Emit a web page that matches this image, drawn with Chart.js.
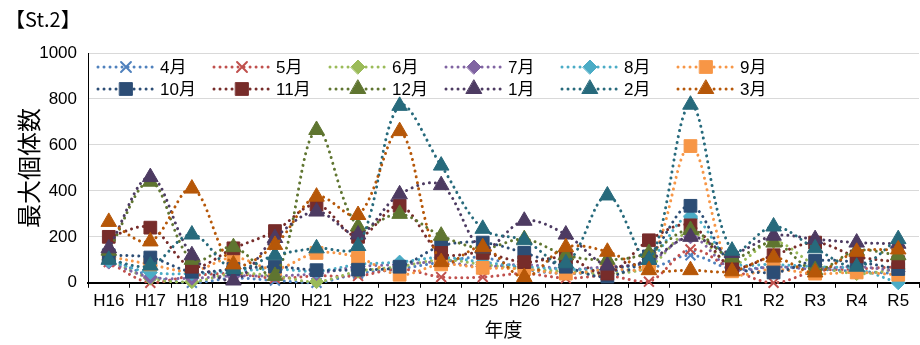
<!DOCTYPE html>
<html>
<head>
<meta charset="utf-8">
<script src="https://cdn.jsdelivr.net/npm/chart.js"></script>
<style>
  body { margin: 0; background: #fff; }
  #wrap { width: 920px; height: 345px; }
</style>
</head>
<body>
<div id="wrap"><canvas id="chart" width="920" height="345"></canvas></div>
<script>
// 年度
const years = ["H16", "H17", "H18", "H19", "H20", "H21", "H22", "H23", "H24", "H25",
  "H26", "H27", "H28", "H29", "H30", "R1", "R2", "R3", "R4", "R5"];

// 月ごとの最大個体数
const apr = [110, 30, 0, 20, 10, 0, 40, 60, 90, 110, 60, 40, 50, 60, 120, 60, 70, 60, 50, 40];
const may = [90, 0, 30, 40, 20, 30, 30, 60, 25, 25, 40, 20, 30, 5, 145, 60, 0, 50, 60, 70];
const jun = [100, 20, 5, 40, 30, 5, 50, 70, 100, 80, 60, 50, 40, 70, 220, 80, 180, 80, 40, 60];
const jul = [90, 25, 20, 30, 30, 40, 70, 80, 90, 70, 80, 60, 70, 90, 200, 60, 70, 60, 70, 50];
const aug = [95, 45, 40, 50, 60, 50, 80, 90, 110, 90, 70, 60, 60, 100, 290, 90, 80, 70, 60, 0];
const sep = [115, 80, 50, 110, 60, 130, 110, 35, 80, 65, 60, 40, 60, 80, 595, 50, 60, 40, 45, 35];
const oct = [120, 110, 48, 60, 70, 55, 57, 70, 160, 175, 130, 70, 27, 115, 335, 80, 45, 95, 90, 60];
const nov = [200, 240, 70, 150, 225, 340, 200, 335, 130, 130, 90, 110, 40, 185, 250, 70, 120, 175, 115, 90];
const dec = [140, 440, 100, 155, 30, 665, 245, 300, 205, 150, 190, 120, 100, 130, 230, 110, 175, 55, 140, 120];
const jan = [150, 460, 120, 10, 195, 310, 210, 385, 425, 150, 270, 210, 75, 100, 200, 130, 205, 190, 175, 170];
const feb = [100, 75, 210, 60, 120, 150, 160, 770, 510, 235, 185, 85, 380, 100, 775, 140, 245, 150, 70, 190];
const mar = [265, 180, 410, 80, 165, 375, 295, 660, 90, 155, 25, 155, 135, 55, 55, 50, 110, 45, 135, 145];

const monthNames = ["4月", "5月", "6月", "7月", "8月", "9月", "10月", "11月", "12月", "1月", "2月", "3月"];
const monthData = [apr, may, jun, jul, aug, sep, oct, nov, dec, jan, feb, mar];
const monthColors = ["#4F81BD", "#C0504D", "#9BBB59", "#8064A2", "#4BACC6", "#F79646",
  "#2C4D75", "#772C2A", "#5F7530", "#4D3B62", "#276A7C", "#B65708"];
const markerStyles = ["crossRot", "crossRot", "rectRot", "rectRot", "rectRot", "rect",
  "rect", "rect", "triangle", "triangle", "triangle", "triangle"];
const markerSizes = { crossRot: 7, rectRot: 7, rect: 9, triangle: 9 };

const FONT = "'Liberation Sans', 'Noto Sans CJK JP', sans-serif";
const JFONT = "'Noto Sans CJK JP', sans-serif";

var datasets = monthNames.map(function (name, i) {
  var st = markerStyles[i];
  return {
    label: name,
    data: monthData[i],
    borderColor: monthColors[i],
    backgroundColor: monthColors[i],
    borderWidth: 3,
    borderDash: [0.01, 6],
    borderCapStyle: "round",
    tension: 0.35,
    pointStyle: st,
    pointRadius: markerSizes[st],
    pointHoverRadius: markerSizes[st],
    pointBackgroundColor: monthColors[i],
    pointBorderColor: monthColors[i],
    pointBorderWidth: st == "crossRot" ? 2 : 1,
    order: 11 - i, // later months on top like the original
    clip: false,
  };
});

// legend drawn inside the plot area (dotted line + marker + text)
const monthLegend = {
  id: "monthLegend",
  afterDraw(chart) {
    const ctx = chart.ctx;
    const area = chart.chartArea;
    ctx.save();
    chart.data.datasets.forEach(function (ds, i) {
      var col = i % 6;
      var row = Math.floor(i / 6);
      var mx = area.left + 38 + col * 116;
      var my = area.top + 14 + row * 22;
      ctx.strokeStyle = ds.borderColor;
      ctx.lineWidth = 3;
      ctx.lineCap = "round";
      ctx.setLineDash([0.01, 6]);
      ctx.beginPath();
      ctx.moveTo(mx - 28, my);
      ctx.lineTo(mx + 28, my);
      ctx.stroke();
      ctx.setLineDash([]);
      ctx.fillStyle = ds.borderColor;
      ctx.lineWidth = ds.pointBorderWidth;
      Chart.helpers.drawPoint(ctx, {
        pointStyle: ds.pointStyle,
        radius: ds.pointRadius,
        borderWidth: ds.pointBorderWidth,
        rotation: 0,
      }, mx, my);
      ctx.fillStyle = "#000";
      ctx.font = "17px " + FONT;
      ctx.textAlign = "left";
      ctx.textBaseline = "middle";
      ctx.fillText(ds.label, mx + 34, my + 1);
    });
    ctx.restore();
  },
};

var ctx = document.getElementById("chart").getContext("2d");
var myChart = new Chart(ctx, {
  type: "line",
  data: { labels: years, datasets: datasets },
  plugins: [monthLegend],
  options: {
    responsive: false,
    animation: false,
    layout: { autoPadding: false, padding: { left: 5, right: 1, top: 0, bottom: 1 } },
    plugins: {
      legend: { display: false },
      tooltip: { enabled: false },
      title: {
        display: true,
        text: "【St.2】",
        align: "start",
        color: "#000",
        font: { family: JFONT, size: 20, weight: "normal" },
        padding: { top: 7, bottom: 22 },
      },
    },
    scales: {
      x: {
        offset: true,
        grid: {
          offset: true,
          drawOnChartArea: false,
          drawTicks: true,
          tickLength: 5,
          color: "#000",
        },
        border: { display: true, color: "#000", width: 2 },
        ticks: {
          color: "#000",
          font: { family: FONT, size: 17 },
          padding: 3,
          maxRotation: 0,
          autoSkip: false,
        },
        title: {
          display: true,
          text: "年度",
          color: "#000",
          font: { family: JFONT, size: 19 },
          padding: { top: 4, bottom: 3 },
        },
      },
      y: {
        min: 0,
        max: 1000,
        afterFit: function (scale) {
          scale.width = 83;
        },
        ticks: {
          stepSize: 200,
          color: "#000",
          font: { family: FONT, size: 17 },
          padding: 11,
          callback: function (v) {
            return String(v);
          },
        },
        grid: { color: "#d9d9d9", lineWidth: 1, drawTicks: false },
        border: { display: true, color: "#000", width: 1 },
        title: {
          display: true,
          text: "最大個体数",
          color: "#000",
          font: { family: JFONT, size: 24 },
          padding: { top: 9, bottom: 0 },
        },
      },
    },
  },
});
</script>
</body>
</html>
